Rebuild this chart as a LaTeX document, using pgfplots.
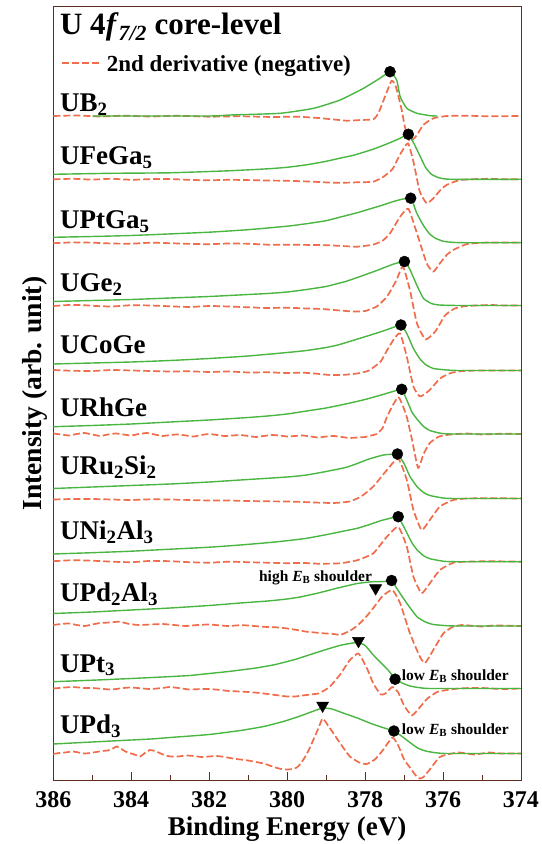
\documentclass[border=0pt]{standalone}
\usepackage{fontspec}
\setmainfont{Liberation Serif}
\usepackage{pgfplots}
\pgfplotsset{compat=1.18}

\definecolor{gcol}{RGB}{72,182,64}
\definecolor{dcol}{RGB}{240,108,74}
\definecolor{framecol}{RGB}{95,45,30}

\pgfplotsset{
  spec/.style={draw=gcol, line width=1.4pt, line join=round, smooth, tension=0.3, forget plot},
  deriv/.style={draw=dcol, line width=1.7pt, dash pattern=on 7pt off 3pt, line join=round, smooth, tension=0.3, forget plot},
}
\tikzset{
  lbl/.style={anchor=base west, inner sep=0pt, font=\fontsize{27}{31}\selectfont\bfseries},
  shd/.style={inner sep=0pt, font=\fontsize{15.5}{18}\selectfont\bfseries},
}

\begin{document}
\begin{tikzpicture}
\begin{axis}[
  name=ax,
  scale only axis,
  width=467.7pt, height=774pt,
  xmin=374, xmax=386, x dir=reverse,
  ymin=0, ymax=774,
  xtick={374,376,...,386},
  minor xtick={375,377,...,385},
  ytick=\empty,
  xtick pos=left,
  tick align=inside,
  major tick length=9pt, minor tick length=6pt,
  axis line style={draw=framecol, line width=0.9pt},
  every tick/.style={draw=framecol, line width=0.9pt},
  /pgf/number format/assume math mode=true,
  xticklabel style={font=\fontsize{24}{28}\selectfont\bfseries, anchor=base, yshift=-27pt},
  xlabel={Binding Energy (eV)},
  xlabel style={font=\fontsize{27}{31}\selectfont\bfseries, at={(axis description cs:0.5,-0.0714)}, anchor=base},
  ylabel={Intensity (arb. unit)},
  ylabel style={font=\fontsize{27.5}{31}\selectfont\bfseries, at={(axis description cs:-0.0391,0.5)}, anchor=center},
]

% ---------------- UB2 (offset 664.7) ----------------
\addplot[deriv] table[y expr=\thisrow{I}+664.7] {
E I
386 0
385.4 0.5
384.8 -0.5
384.2 0.3
383.5 -0.5
382.8 0.2
382 -0.7
381.2 -0.3
380.4 -1
379.75 -0.7
379.2 -2
378.8 -3.5
378.47 -4.7
378.1 -4
377.79 -3.3
377.66 2.7
377.49 19.3
377.32 35.3
377.21 29.3
377.06 6
376.98 -10.7
376.85 -25.7
376.67 -19
376.51 -9
376.25 -2.3
375.9 0
375.4 0.3
374.8 -0.3
374 0
};
\addplot[spec] table[y expr=\thisrow{I}+664.7] {
E I
385.0 0
382 0
381.46 1
380.18 2.7
379.32 7.7
378.64 16
378.04 27.7
377.62 37.7
377.36 44.3
377.19 36
377.10 19.3
376.93 7.7
376.67 2.7
376.33 0.3
376.15 0
};

% ---------------- UFeGa5 (offset 601.4) ----------------
\addplot[deriv] table[y expr=\thisrow{I}+601.4] {
E I
386 0
385.5 0.5
385 -0.3
384.5 0.5
384 -0.5
383.5 0.2
383 0.3
382.5 -0.6
382 -1
381.5 -0.5
381 -0.8
380.5 -1.2
380 -1.5
379.6 -2
379.3 -2.5
378.8 -3.5
378.4 -3.3
378.2 -3
377.8 -2.5
377.55 2
377.3 10
377.1 25
376.9 36
376.75 16
376.6 -12
376.42 -24
376.25 -19
376.05 -10
375.9 -5.5
375.6 -1
375.3 0
374.8 0.5
374.4 0
374 0
};
\addplot[spec] table[y expr=\thisrow{I}+601.4] {
E I
386 5
384.5 6
383 6.5
381.5 8.5
380.5 10.5
380 12
379.5 14.5
379 18
378.6 21.5
378.3 24
377.8 30
377.4 36
377.1 41
376.89 45
376.75 36
376.6 24
376.45 12
376.3 5
376.1 1.5
375.8 0
374 0
};

% ---------------- UPtGa5 (offset 538) ----------------
\addplot[deriv] table[y expr=\thisrow{I}+538] {
E I
386 -0.5
385.5 0.3
385 0
384.5 -0.8
384 -1
383.5 0
383 -0.5
382.5 -1.2
382 -1.5
381.5 -0.8
381 -1
380.5 -2
380 -2
379.5 -2.2
379 -2.5
378.5 -3.5
378.2 -4
377.8 -2
377.55 2
377.36 9.4
377.1 26
376.89 34
376.67 9.4
376.42 -20.6
376.25 -29
376.08 -20.6
375.9 -12
375.74 -7.3
375.4 -1.5
375 0
374.5 0.3
374 0
};
\addplot[spec] table[y expr=\thisrow{I}+538] {
E I
386 5.4
385 6.2
384 7.2
383 8.8
382 10.5
381 13
380 16.5
379.5 19
379 22
378.6 26
378.2 30
377.9 33.5
377.6 37
377.2 42
376.83 44.5
376.68 30
376.5 17
376.35 9
376.2 4.5
376.0 1.5
375.8 0.5
375.5 0
374 0
};

% ---------------- UGe2 (offset 475.2) ----------------
\addplot[deriv] table[y expr=\thisrow{I}+475.2] {
E I
386 -0.5
385.6 0.5
385.3 0.5
384.9 -0.5
384.5 -1
384 0.3
383.5 0
383 -0.8
382.5 -1.5
382 -0.5
381.5 -1
381 -1.8
380.5 -2.5
380 -2.2
379.5 -3
379.1 -3.5
378.8 -4.5
378.3 -6
378 -5.5
377.7 -1
377.44 8.8
377.2 25
377.03 39
376.85 15.5
376.67 -17.8
376.45 -34
376.2 -26
375.95 -10
375.7 -3
375.4 -0.5
374.8 0.5
374.4 0
374 0
};
\addplot[spec] table[y expr=\thisrow{I}+475.2] {
E I
386 4
385 5
384 6
383 7.5
382 9
381 11
380.5 12
380 13.5
379.5 16
379 19
378.8 21
378.5 24
378.2 28
377.7 35
377.3 41
376.99 44
376.85 36
376.67 20
376.5 7
376.3 2
376.1 0.5
375.6 0
374 0
};

% ---------------- UCoGe (offset 410.2) ----------------
\addplot[deriv] table[y expr=\thisrow{I}+410.2] {
E I
386 0.5
385.5 -0.3
385 -0.5
384.5 0.5
384 0
383.5 -0.5
383 -1
382.5 -0.8
382 -1.5
381.5 -1
381 -2
380.5 -1.8
380 -2.5
379.6 -2.2
379.3 -3
378.9 -4.5
378.6 -4.5
378.2 -3
377.9 0
377.6 9
377.44 20
377.25 32
377.1 37
376.93 13.8
376.76 -16
376.59 -26
376.34 -19.5
376.08 -8
375.8 -2.5
375.5 -0.5
375 0
374 0
};
\addplot[spec] table[y expr=\thisrow{I}+410.2] {
E I
386 6.5
385 7.5
384 8.5
383 10
382 12
381 14.5
380 18
379.5 20
379 23
378.7 25.5
378.4 29
377.9 35
377.5 40
377.25 43.5
377.08 45.5
376.93 37
376.76 22
376.6 12
376.45 6
376.25 2
375.9 0.5
375.6 0
374 0
};

% ---------------- URhGe (offset 346.7) ----------------
\addplot[deriv] table[y expr=\thisrow{I}+346.7] {
E I
386 0.5
385.8 -0.5
385.6 -1.5
385.4 0
385.2 1
385 -0.5
384.8 -2
384.6 -0.5
384.4 0.5
384.2 -0.5
384 -1.5
383.8 0
383.6 1
383.4 -0.5
383.2 -2
383 -1
382.8 -0.5
382.6 -1.5
382.4 -2.5
382.2 -1
382 0
381.8 -1
381.6 -2
381.4 -1.5
381.2 -1
381 -2
380.8 -3
380.6 -2
380.4 -1
380.2 -1.5
380 -2.5
379.8 -2
379.6 -1.5
379.4 -2.5
379.2 -3.5
379 -2.5
378.8 -2
378.6 -3
378.4 -4
378.2 -3.5
378 -3
377.85 -1.5
377.7 0
377.55 6
377.44 17
377.3 28
377.15 37
377.05 30
376.93 17
376.8 -5
376.64 -34
376.5 -20
376.34 -9
376.1 -2.5
375.8 -0.5
375.4 0.5
375 -0.5
374.5 0.3
374 0
};
\addplot[spec] table[y expr=\thisrow{I}+346.7] {
E I
386 7.3
385 8.5
384 10
383 12
382 14
381 16.5
380.5 18
380 20
379.5 23
379 26
378.5 30
378 34.5
377.5 40
377.2 43.5
377.06 44.7
376.93 34
376.8 22
376.67 15
376.5 7.5
376.34 3.5
376.1 1
375.8 0
374 0
};

% ---------------- URu2Si2 (offset 282.2) ----------------
\addplot[deriv] table[y expr=\thisrow{I}+282.2] {
E I
386 -1
385.5 -0.5
385 -0.5
384.5 -1
384 -1.5
383.5 -0.8
383 -1
382.5 -1.5
382 -2
381.5 -2
381 -2.5
380.5 -2.8
380 -3
379.6 -3.5
379.3 -4
378.8 -4.5
378.4 -3
378.1 2
377.79 12
377.44 28.5
377.15 40
376.93 18.5
376.76 -11.5
376.55 -31.5
376.34 -21.5
376.08 -8
375.74 -1.5
375.4 0
374.8 0.3
374 0
};
\addplot[spec] table[y expr=\thisrow{I}+282.2] {
E I
386 10
385 11.5
384 13
383 14.5
382 16.5
381.2 18.5
380 21.5
379.5 23.5
379 27
378.5 31
378.2 35
377.9 39.5
377.53 43.5
377.3 44.3
377.17 44.5
377.0 35
376.85 22
376.67 12
376.5 6
376.34 3
376.0 0.5
375.7 0
374 0
};

% ---------------- UNi2Al3 (offset 219) ----------------
\addplot[deriv] table[y expr=\thisrow{I}+219] {
E I
386 0.5
385.5 1.5
385 1
384.5 0
384 -0.5
383.5 0.8
383 0.5
382.5 -0.5
382 -1
381.5 0
381 -0.5
380.5 -1
380 -1.5
379.6 -1.2
379.2 -2
378.64 -1.6
378.2 1.5
377.79 8.4
377.44 25
377.15 35
376.93 15
376.76 -15
376.55 -31.6
376.34 -21.6
376.08 -8.3
375.74 -1
375.4 0
374.8 0.5
374 0
};
\addplot[spec] table[y expr=\thisrow{I}+219] {
E I
386 7.7
385 9
384 10.5
383 12.5
382 14.5
381.2 16.7
380.5 19
380 21
379.5 23.4
379 27
378.5 31
378.2 33.4
377.9 37
377.6 41
377.3 44
377.15 45
376.93 29
376.8 19
376.67 12
376.5 6
376.34 3
376.0 0.5
375.7 0
374 0
};

% ---------------- UPd2Al3 (offset 154.7) ----------------
\addplot[deriv] table[y expr=\thisrow{I}+154.7] {
E I
386 1
385.8 2
385.6 2.5
385.4 1
385.2 0
385 1.5
384.8 3
384.55 3.5
384.3 4.3
384.05 2
383.8 1
383.5 1.5
383.2 2
382.9 1
382.6 0
382.3 1
382 1.5
381.7 0.5
381.5 0
381.2 0.8
381 0.5
380.7 -0.5
380.5 -1
380.2 -1.5
380 -2.5
379.75 -4
379.5 -5.7
379.07 -7.3
378.8 -8
378.64 -9
378.4 -5
378.21 0
378.0 8
377.79 18
377.55 30
377.3 36
377.10 22.7
376.85 -7.3
376.59 -31
376.46 -37
376.25 -24
375.99 -7.3
375.74 -0.7
375.5 1
375.2 0
375 -0.5
374.7 0.5
374.5 0.5
374 0
};
\addplot[spec] table[y expr=\thisrow{I}+154.7] {
E I
386 12.5
385 14
384 16
383 18
382 20.5
381.2 23
380.5 25
380 27
379.67 29
379.2 33
378.7 38
378.2 42.5
377.8 44.3
377.5 44.5
377.32 45.5
377.19 37.7
376.93 22.7
376.67 9.3
376.45 4
376.25 1.5
375.9 0.3
375.6 0
374 0
};

% ---------------- UPt3 (offset 92.2) ----------------
\addplot[deriv] table[y expr=\thisrow{I}+92.2] {
E I
386 0
385.7 1
385.5 1.5
385.2 0.5
385 0.5
384.7 -0.5
384.5 -1
384.2 0.5
384 1
383.7 0
383.5 -0.5
383.2 0.5
383 1.5
382.7 0
382.5 -1
382.2 -0.5
382 -0.5
381.7 -1.5
381.5 -2.5
381.2 -3
381 -3.5
380.7 -4.5
380.5 -5.5
380.2 -7
380 -8
379.8 -8
379.6 -7
379.4 -6
379.2 -5
379.05 -2
378.9 2
378.64 14
378.4 28
378.17 35
377.95 20
377.79 5
377.6 -6
377.48 -5
377.3 1.5
377.15 -4
377.0 -17
376.8 -27
376.6 -19
376.4 -10
376.15 -3.5
375.9 -1.5
375.6 0
375.3 0.5
375 0.5
374.5 -0.5
374 0
};
\addplot[spec] table[y expr=\thisrow{I}+92.2] {
E I
386 6.8
385 8.3
384 10
383.2 11.5
382.5 13
382 15
381.5 17
380.8 20.5
380.3 24
379.8 29
379.4 34
379 39
378.6 43.5
378.2 46
378.0 43
377.79 33.5
377.6 26
377.4 18
377.23 10
377.05 5.5
376.85 2.5
376.6 0.8
376.3 0
374 0
};

% ---------------- UPd3 (offset 27.2) ----------------
\addplot[deriv] table[y expr=\thisrow{I}+27.2] {
E I
386 -0.5
385.85 0.5
385.7 1
385.5 2
385.35 1
385.2 0
385.05 0.5
384.9 1.5
384.75 2.5
384.6 3
384.45 5.5
384.37 7
384.25 4.5
384.15 2
384.0 0
383.88 -1.5
383.77 -3
383.65 0.5
383.52 3.5
383.4 2.5
383.3 1
383.15 -1.5
383.0 -3
382.8 -3
382.6 -2
382.4 -2.5
382.2 -3.5
382 -3
381.8 -2.5
381.6 -3.5
381.4 -5
381.2 -6
381.0 -7
380.8 -8.5
380.6 -10
380.45 -12
380.3 -14
380.15 -15.5
380.0 -16
379.85 -15.5
379.75 -14
379.65 -10
379.55 -4
379.45 3
379.33 13.5
379.2 25
379.09 35
378.95 28
378.81 20
378.6 8
378.39 -3
378.15 -9
377.96 -10.5
377.75 -6
377.55 3
377.3 16
377.15 8
377.0 -6
376.85 -14
376.7 -22
376.6 -25
376.5 -23.5
376.3 -14
376.1 -4
375.9 -1
375.6 1
375.4 0
375.2 -1
375 0
374.8 1
374.5 0
374 0
};
\addplot[spec] table[y expr=\thisrow{I}+27.2] {
E I
386 9.5
385 11.5
384.5 12.5
383.5 14.5
383 16
382 19
381.2 23
380.6 27
380.1 32
379.7 37
379.35 42
379.09 45.5
378.85 44.5
378.6 41
378.2 35.5
377.85 30
377.55 26
377.26 22.5
377.05 17
376.85 11
376.65 5.5
376.45 2.5
376.2 0.8
375.9 0
374 0
};

% main peak positions
\addplot[only marks, mark=*, mark size=5.5pt, black, forget plot] coordinates {
(377.36,709.0) (376.89,646.4) (376.83,582.5) (376.99,519.2) (377.08,455.7)
(377.06,391.4) (377.17,326.7) (377.15,264.0) (377.32,200.2) (377.23,101.5)
(377.26,49.7)
};
% high binding-energy shoulders
\addplot[only marks, mark=triangle*, mark size=7pt, black, mark options={rotate=180}, forget plot] coordinates {
(377.73,192.5) (378.17,139.8) (379.09,75.2)
};

% key for the dashed curves
\addplot[deriv, smooth=false] coordinates {(385.78,717.5) (384.80,717.5)};
\node[anchor=base west, inner sep=0pt, font=\fontsize{23}{27}\selectfont\bfseries]
  at (axis cs:384.63,709.0) {2nd derivative (negative)};

% compound names
\node[lbl] at (axis cs:385.83,668.7) {UB\textsubscript{2}};
\node[lbl] at (axis cs:385.83,615.7) {UFeGa\textsubscript{5}};
\node[lbl] at (axis cs:385.83,552.4) {UPtGa\textsubscript{5}};
\node[lbl] at (axis cs:385.83,488.7) {UGe\textsubscript{2}};
\node[lbl] at (axis cs:385.83,427.4) {UCoGe};
\node[lbl] at (axis cs:385.83,364.0) {URhGe};
\node[lbl] at (axis cs:385.83,305.7) {URu\textsubscript{2}Si\textsubscript{2}};
\node[lbl] at (axis cs:385.83,240.7) {UNi\textsubscript{2}Al\textsubscript{3}};
\node[lbl] at (axis cs:385.83,179.0) {UPd\textsubscript{2}Al\textsubscript{3}};
\node[lbl] at (axis cs:385.83,108.7) {UPt\textsubscript{3}};
\node[lbl] at (axis cs:385.83,47.4) {UPd\textsubscript{3}};

\node[anchor=base west, inner sep=0pt, font=\fontsize{31}{35}\selectfont\bfseries]
  at (axis cs:385.83,745.7) {U 4\textit{f}\textsubscript{\textit{7/2}} core-level};

\node[shd, anchor=base east] at (axis cs:377.82,199.0) {high \textit{E}\textsubscript{B} shoulder};
\node[shd, anchor=base west] at (axis cs:377.06,100.0) {low \textit{E}\textsubscript{B} shoulder};
\node[shd, anchor=base west] at (axis cs:377.06,46.0) {low \textit{E}\textsubscript{B} shoulder};
\end{axis}
\pgfresetboundingbox
\path ([shift={(-53.3pt,-63.3pt)}]ax.south west) rectangle ([shift={(21pt,6.7pt)}]ax.north east);
\end{tikzpicture}
\end{document}
